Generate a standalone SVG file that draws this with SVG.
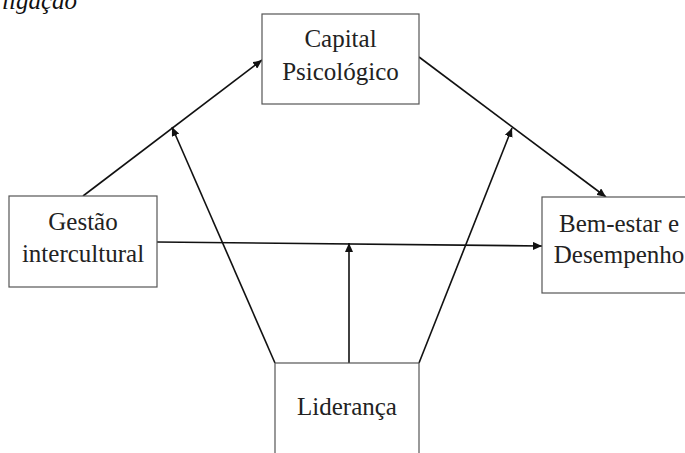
<svg xmlns="http://www.w3.org/2000/svg" width="685" height="453" viewBox="0 0 685 453">
<style>
.box{fill:#fff;stroke:#555;stroke-width:1.2}
.lbl{font-size:25px;fill:#222;text-anchor:middle}
.edge{stroke:#111;stroke-width:1.6;fill:none;marker-end:url(#ah)}
.title{font-size:25px;font-style:italic;fill:#111}
</style>
<defs>
<marker id="ah" markerUnits="userSpaceOnUse" markerWidth="10" markerHeight="8" refX="9" refY="4" orient="auto">
<path d="M0,0 L9,4 L0,8 z" fill="#111"/>
</marker>
</defs>
<rect width="685" height="453" fill="#fff"/>
<text class="title" font-family="'Liberation Serif', 'DejaVu Serif', serif" x="2" y="9">ligação</text>
<g id="edges">
<line class="edge" x1="83" y1="196" x2="262" y2="60"/>
<line class="edge" x1="419" y1="57" x2="606" y2="197"/>
<line class="edge" x1="157" y1="242" x2="542" y2="246"/>
<line class="edge" x1="349" y1="363" x2="349" y2="243"/>
<line class="edge" x1="275" y1="363" x2="172" y2="127"/>
<line class="edge" x1="419" y1="363" x2="512" y2="128"/>
</g>
<g id="capital" font-family="'Liberation Serif', 'DejaVu Serif', serif">
<rect class="box" x="262" y="14" width="157" height="90"/>
<text class="lbl" x="340.5" y="47">Capital</text>
<text class="lbl" x="340.5" y="80">Psicológico</text>
</g>
<g id="gestao" font-family="'Liberation Serif', 'DejaVu Serif', serif">
<rect class="box" x="9" y="196" width="148" height="91"/>
<text class="lbl" x="83" y="230">Gestão</text>
<text class="lbl" x="83" y="262">intercultural</text>
</g>
<g id="bemestar" font-family="'Liberation Serif', 'DejaVu Serif', serif">
<rect class="box" x="542" y="197" width="154" height="96"/>
<text class="lbl" x="619" y="232">Bem-estar e</text>
<text class="lbl" x="619" y="263">Desempenho</text>
</g>
<g id="lideranca" font-family="'Liberation Serif', 'DejaVu Serif', serif">
<rect class="box" x="275" y="363" width="144" height="110"/>
<text class="lbl" x="347" y="415">Liderança</text>
</g>
</svg>
